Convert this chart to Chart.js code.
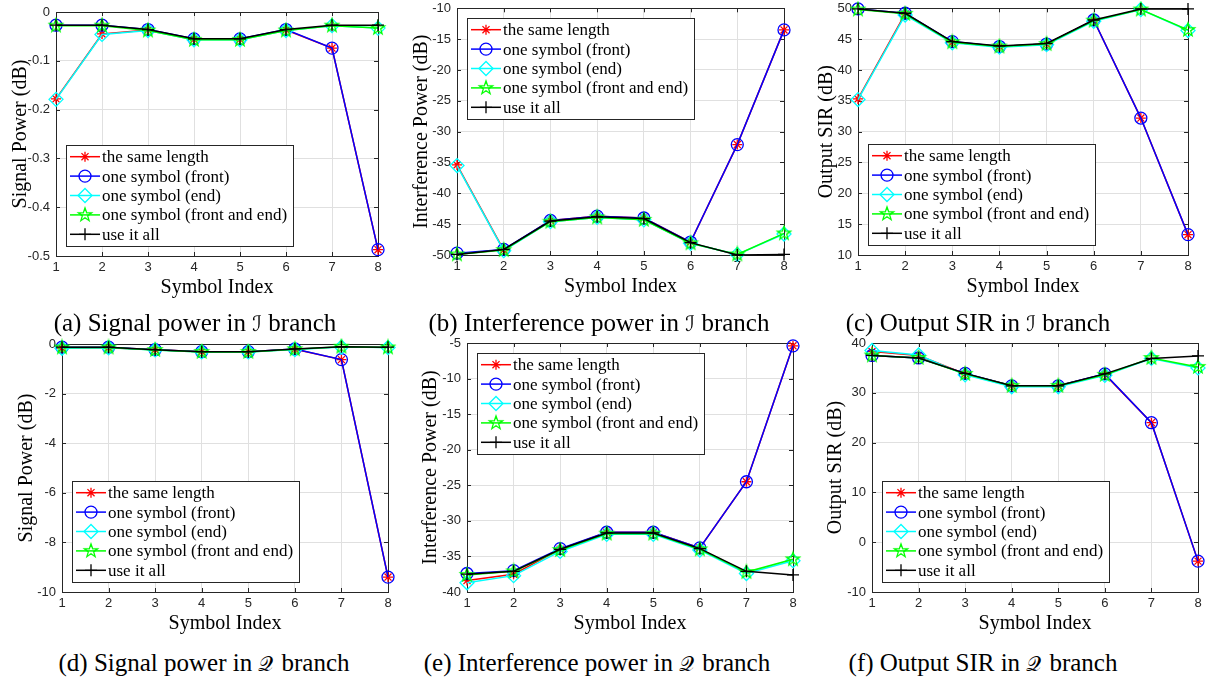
<!DOCTYPE html>
<html><head><meta charset="utf-8">
<script src="https://cdn.jsdelivr.net/npm/chart.js@4/dist/chart.umd.min.js"></script>
<style>
body{margin:0;background:#fff;width:1211px;height:679px;overflow:hidden;position:relative;}
canvas{position:absolute;}
.cap{position:absolute;font-family:"Liberation Serif",serif;font-size:25px;white-space:nowrap;transform:translate(-50%,-50%);color:#000;}
.scr{font-family:"DejaVu Serif","DejaVu Sans",serif;font-size:21px;display:inline-block;}
.scrq{font-family:"DejaVu Serif","DejaVu Sans",serif;font-size:21px;display:inline-block;padding-right:8px;}
</style></head><body>
<script>
// ---------------- data ----------------
const symbolIndex = ['1','2','3','4','5','6','7','8'];
const seriesNames = ['the same length','one symbol (front)','one symbol (end)','one symbol (front and end)','use it all'];

// (a) Signal power in I branch
const sigI_same     = [-0.178, -0.045, -0.037, -0.056, -0.056, -0.037, -0.074, -0.487];
const sigI_front    = [-0.027, -0.027, -0.036, -0.055, -0.055, -0.036, -0.074, -0.487];
const sigI_end      = [-0.179, -0.046, -0.038, -0.057, -0.057, -0.038, -0.028, -0.033];
const sigI_frontEnd = [-0.028, -0.028, -0.038, -0.057, -0.057, -0.038, -0.028, -0.033];
const sigI_all      = [-0.027, -0.027, -0.036, -0.055, -0.055, -0.036, -0.027, -0.027];
const sigI_yTicks   = [-0.5, -0.4, -0.3, -0.2, -0.1, 0];

// (b) Interference power in I branch
const intI_same     = [-35.4, -49.2, -44.4, -43.7, -44.0, -47.9, -32.1, -13.5];
const intI_front    = [-49.7, -49.1, -44.4, -43.7, -44.0, -47.9, -32.1, -13.5];
const intI_end      = [-35.5, -49.3, -44.6, -43.9, -44.3, -48.1, -49.9, -46.6];
const intI_frontEnd = [-49.9, -49.2, -44.6, -43.9, -44.3, -48.1, -49.9, -46.5];
const intI_all      = [-49.9, -49.1, -44.5, -43.8, -44.1, -48.0, -50.0, -49.9];
const intI_yTicks   = [-50, -45, -40, -35, -30, -25, -20, -15, -10];

// (c) Output SIR in I branch
const sirI_same     = [35.3, 49.1, 44.5, 43.8, 44.2, 48.1, 32.2, 13.3];
const sirI_front    = [49.9, 49.2, 44.6, 43.8, 44.2, 48.1, 32.2, 13.3];
const sirI_end      = [35.2, 48.9, 44.4, 43.7, 44.1, 47.9, 49.8, 46.4];
const sirI_frontEnd = [49.8, 49.1, 44.5, 43.8, 44.2, 48.0, 49.8, 46.5];
const sirI_all      = [49.9, 49.2, 44.6, 43.9, 44.3, 48.1, 49.9, 49.9];
const sirI_yTicks   = [10, 15, 20, 25, 30, 35, 40, 45, 50];

// (d) Signal power in Q branch
const sigQ_same     = [-0.17, -0.15, -0.23, -0.31, -0.31, -0.21, -0.63, -9.4];
const sigQ_front    = [-0.13, -0.13, -0.23, -0.31, -0.31, -0.20, -0.63, -9.4];
const sigQ_end      = [-0.17, -0.15, -0.24, -0.32, -0.32, -0.22, -0.12, -0.14];
const sigQ_frontEnd = [-0.14, -0.14, -0.24, -0.32, -0.32, -0.21, -0.11, -0.14];
const sigQ_all      = [-0.13, -0.13, -0.23, -0.31, -0.31, -0.20, -0.11, -0.13];
const sigQ_yTicks   = [-10, -8, -6, -4, -2, 0];

// (e) Interference power in Q branch
const intQ_same     = [-38.4, -37.5, -34.0, -31.6, -31.6, -33.8, -24.5, -5.4];
const intQ_front    = [-37.4, -37.0, -33.9, -31.6, -31.6, -33.8, -24.5, -5.4];
const intQ_end      = [-38.7, -37.7, -34.3, -31.9, -31.9, -34.1, -37.4, -35.6];
const intQ_frontEnd = [-37.6, -37.1, -34.1, -31.8, -31.8, -34.0, -37.2, -35.4];
const intQ_all      = [-37.5, -37.1, -34.0, -31.7, -31.7, -33.9, -37.1, -37.6];
const intQ_yTicks   = [-40, -35, -30, -25, -20, -15, -10, -5];

// (f) Output SIR in Q branch
const sirQ_same     = [38.3, 37.5, 33.8, 31.4, 31.4, 33.7, 24.0, -3.8];
const sirQ_front    = [37.5, 37.0, 33.9, 31.4, 31.4, 33.8, 24.0, -3.8];
const sirQ_end      = [38.5, 37.6, 33.6, 31.2, 31.2, 33.5, 36.9, 35.0];
const sirQ_frontEnd = [37.5, 37.0, 33.8, 31.4, 31.4, 33.6, 37.0, 35.2];
const sirQ_all      = [37.5, 37.0, 33.9, 31.4, 31.4, 33.8, 36.9, 37.4];
const sirQ_yTicks   = [-10, 0, 10, 20, 30, 40];

// ---------------- styles ----------------
function makePentagram(r, color){
  const s = Math.ceil(2*r+4), c = document.createElement('canvas');
  c.width = s; c.height = s;
  const g = c.getContext('2d'); g.strokeStyle = color; g.lineWidth = 1.3;
  g.beginPath();
  for(let i=0;i<10;i++){
    const rr = i%2===0 ? r : r*0.40;
    const a = -Math.PI/2 + i*Math.PI/5;
    const x = s/2 + rr*Math.cos(a), y = s/2 + rr*Math.sin(a);
    if(i===0) g.moveTo(x,y); else g.lineTo(x,y);
  }
  g.closePath(); g.stroke();
  return c;
}
const pent = makePentagram(7, '#00ff00');
const seriesStyle = [
  {color:'#ff0000', point:'star',    r:5,  order:5},
  {color:'#0000ff', point:'circle',  r:6,  order:4},
  {color:'#00ffff', point:'rectRot', r:7,  order:3},
  {color:'#00ff00', point:pent,      r:7,  order:2},
  {color:'#000000', point:'cross',   r:6,  order:1},
];

const panels = [
  {l:56,  t:12,  r:378,  b:256, ct:0,   tx:21,  yTitle:'Signal Power (dB)',       ticks:sigI_yTicks, leg:'bl', data:[sigI_same,sigI_front,sigI_end,sigI_frontEnd,sigI_all]},
  {l:457, t:7,   r:784,  b:255, ct:0,   tx:422, yTitle:'Interference Power (dB)', ticks:intI_yTicks, leg:'tl', data:[intI_same,intI_front,intI_end,intI_frontEnd,intI_all]},
  {l:858, t:5,   r:1188, b:255, ct:0,   tx:827, yTitle:'Output SIR (dB)',         ticks:sirI_yTicks, leg:'bl', data:[sirI_same,sirI_front,sirI_end,sirI_frontEnd,sirI_all]},
  {l:62,  t:344, r:388,  b:592, ct:332, tx:27,  yTitle:'Signal Power (dB)',       ticks:sigQ_yTicks, leg:'bl', data:[sigQ_same,sigQ_front,sigQ_end,sigQ_frontEnd,sigQ_all]},
  {l:467, t:343, r:793,  b:592, ct:332, tx:431, yTitle:'Interference Power (dB)', ticks:intQ_yTicks, leg:'tl', data:[intQ_same,intQ_front,intQ_end,intQ_frontEnd,intQ_all]},
  {l:872, t:343, r:1198, b:592, ct:332, tx:836, yTitle:'Output SIR (dB)',         ticks:sirQ_yTicks, leg:'bl', data:[sirQ_same,sirQ_front,sirQ_end,sirQ_frontEnd,sirQ_all]},
];
const captions = [
  {x:195, y:323, html:'(a) Signal power in <span class="scr">ℐ</span> branch'},
  {x:599, y:323, html:'(b) Interference power in <span class="scr">ℐ</span> branch'},
  {x:978, y:323, html:'(c) Output SIR in <span class="scr">ℐ</span> branch'},
  {x:204, y:663, html:'(d) Signal power in <span class="scrq">𝒬</span>branch'},
  {x:597, y:663, html:'(e) Interference power in <span class="scrq">𝒬</span>branch'},
  {x:983, y:663, html:'(f) Output SIR in <span class="scrq">𝒬</span>branch'},
];

// ---------------- plugins ----------------
const AX = '#262626';
const boxPlugin = {
  id:'matlabBox',
  beforeDatasetsDraw(chart){
    const {ctx, chartArea:a, scales} = chart;
    ctx.save();
    ctx.strokeStyle = AX; ctx.lineWidth = 1;
    const tl = 4;
    ctx.beginPath();
    scales.x.ticks.forEach((tk,i)=>{
      const px = Math.round(scales.x.getPixelForTick(i))+0.5;
      ctx.moveTo(px, a.bottom); ctx.lineTo(px, a.bottom-tl);
      ctx.moveTo(px, a.top); ctx.lineTo(px, a.top+tl);
    });
    scales.y.ticks.forEach(tk=>{
      const py = Math.round(scales.y.getPixelForValue(tk.value))+0.5;
      ctx.moveTo(a.left, py); ctx.lineTo(a.left+tl, py);
      ctx.moveTo(a.right, py); ctx.lineTo(a.right-tl, py);
    });
    ctx.stroke();
    ctx.strokeRect(Math.round(a.left)+0.5, Math.round(a.top)+0.5, Math.round(a.right-a.left), Math.round(a.bottom-a.top));
    ctx.restore();
  }
};
function drawMarker(ctx, style, x, y, r, color){
  ctx.save(); ctx.strokeStyle = color; ctx.lineWidth = 1.3; ctx.beginPath();
  if(style === 'circle'){ ctx.arc(x,y,r,0,Math.PI*2); }
  else if(style === 'star'){
    for(let k=0;k<4;k++){ const a=k*Math.PI/4; ctx.moveTo(x-r*Math.cos(a),y-r*Math.sin(a)); ctx.lineTo(x+r*Math.cos(a),y+r*Math.sin(a)); }
  } else if(style === 'rectRot'){
    ctx.moveTo(x-r,y); ctx.lineTo(x,y-r); ctx.lineTo(x+r,y); ctx.lineTo(x,y+r); ctx.closePath();
  } else if(style === 'cross'){
    ctx.moveTo(x-r,y); ctx.lineTo(x+r,y); ctx.moveTo(x,y-r); ctx.lineTo(x,y+r);
  } else if(typeof style === 'object'){
    ctx.drawImage(style, x-style.width/2, y-style.height/2);
  }
  ctx.stroke(); ctx.restore();
}
const legendPlugin = {
  id:'matlabLegend',
  afterDraw(chart, args, opts){
    const {ctx, chartArea:a} = chart;
    ctx.save();
    ctx.font = '17px "Liberation Serif", serif';
    let tw = 0; seriesNames.forEach(n=>{ tw = Math.max(tw, ctx.measureText(n).width); });
    const rowH = 19.4, w = Math.round(36 + tw + 6), h = Math.round(rowH*5 + 4);
    const bx = Math.round(a.left + 10);
    const by = opts.corner === 'tl' ? Math.round(a.top + 10) : Math.round(a.bottom - 10 - h);
    ctx.fillStyle = '#fff'; ctx.fillRect(bx, by, w, h);
    ctx.strokeStyle = AX; ctx.lineWidth = 1; ctx.strokeRect(bx+0.5, by+0.5, w, h);
    seriesNames.forEach((n,i)=>{
      const st = seriesStyle[i];
      const cy = by + 2 + rowH/2 + i*rowH;
      ctx.strokeStyle = st.color; ctx.lineWidth = 1.5;
      ctx.beginPath(); ctx.moveTo(bx+4, cy); ctx.lineTo(bx+34, cy); ctx.stroke();
      drawMarker(ctx, st.point, bx+19, cy, st.r, st.color);
      ctx.fillStyle = '#000'; ctx.textBaseline = 'middle'; ctx.textAlign = 'left';
      ctx.fillText(n, bx+36, cy+1);
    });
    ctx.restore();
  }
};

// ---------------- build ----------------
const XH = 44, PR = 12;
panels.forEach(p=>{
  const left = p.tx - 12;
  const YW = p.l - left;
  const PT = p.t - p.ct;
  const pr = Math.min(PR, 1211 - p.r);
  const W = YW + (p.r - p.l) + pr;
  const H = PT + (p.b - p.t) + XH;
  const cv = document.createElement('canvas');
  cv.width = W; cv.height = H;
  cv.style.left = left + 'px'; cv.style.top = p.ct + 'px';
  cv.style.width = W + 'px'; cv.style.height = H + 'px';
  document.body.appendChild(cv);
  const tickVals = p.ticks;
  new Chart(cv.getContext('2d'), {
    type:'line',
    data:{
      labels: symbolIndex,
      datasets: p.data.map((d,i)=>({
        label: seriesNames[i], data: d,
        borderColor: seriesStyle[i].color, backgroundColor: seriesStyle[i].color,
        borderWidth: 1.5, tension: 0, fill:false, clip:false,
        pointStyle: seriesStyle[i].point, pointRadius: seriesStyle[i].r,
        pointBorderColor: seriesStyle[i].color, pointBackgroundColor: 'rgba(0,0,0,0)',
        pointBorderWidth: 1.3, order: seriesStyle[i].order
      }))
    },
    options:{
      responsive:false, animation:false, devicePixelRatio:1,
      layout:{padding:{top:PT, right:pr, left:0, bottom:0}},
      plugins:{legend:{display:false}, tooltip:{enabled:false}, matlabLegend:{corner:p.leg}},
      scales:{
        x:{
          type:'category', offset:false,
          grid:{color:'#e0e0e0', drawTicks:false, lineWidth:1},
          border:{display:false},
          ticks:{color:AX, font:{family:'"Liberation Sans", Arial, sans-serif', size:13}, padding:4, maxRotation:0, autoSkip:false},
          title:{display:true, text:'Symbol Index', color:'#000', font:{family:'"Liberation Serif", serif', size:20, lineHeight:1.2}, padding:0},
          afterFit(s){ s.height = XH; s.paddingLeft = 0; s.paddingRight = 0; }
        },
        y:{
          type:'linear', min: tickVals[0], max: tickVals[tickVals.length-1],
          afterBuildTicks(s){ s.ticks = tickVals.map(v=>({value:v})); },
          grid:{color:'#e0e0e0', drawTicks:false, lineWidth:1},
          border:{display:false},
          ticks:{color:AX, font:{family:'"Liberation Sans", Arial, sans-serif', size:13}, padding:6, callback:(v)=>String(v)},
          title:{display:true, text:p.yTitle, color:'#000', font:{family:'"Liberation Serif", serif', size:20, lineHeight:1.2}, padding:0},
          afterFit(s){ s.width = YW; s.paddingTop = 0; s.paddingBottom = 0; }
        }
      }
    },
    plugins:[boxPlugin, legendPlugin]
  });
});
captions.forEach(c=>{
  const d = document.createElement('div');
  d.className = 'cap'; d.style.left = c.x + 'px'; d.style.top = c.y + 'px';
  d.innerHTML = c.html; document.body.appendChild(d);
});
</script>
</body></html>
